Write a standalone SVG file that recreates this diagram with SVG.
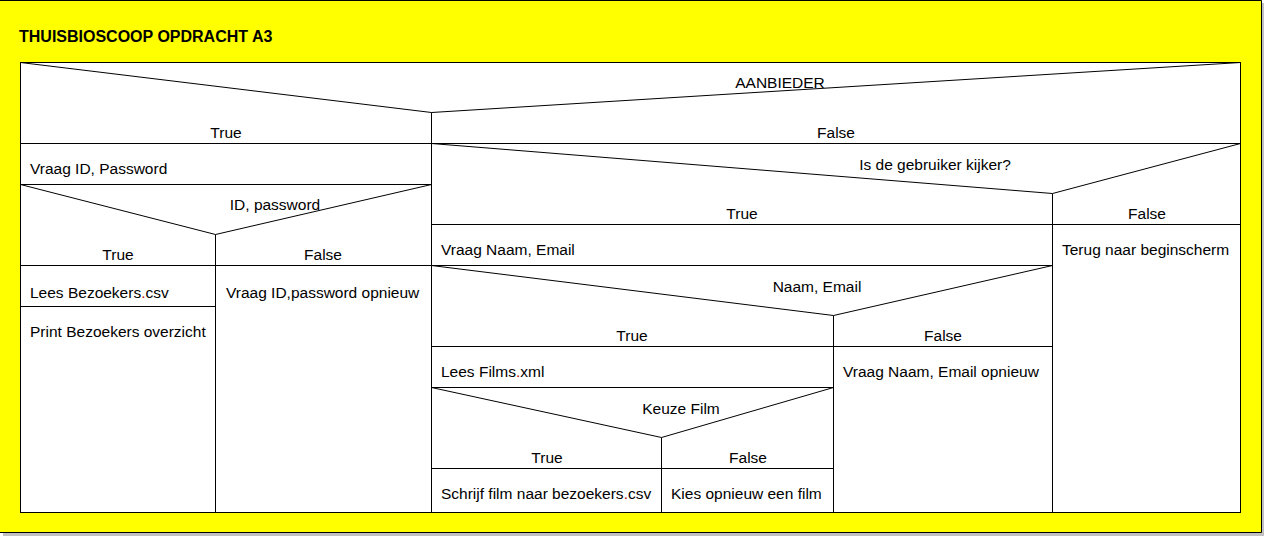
<svg xmlns="http://www.w3.org/2000/svg" width="1264" height="536" viewBox="0 0 1264 536">
<style>
.ln{stroke:#000;stroke-width:1;fill:none}
.t{font-family:"Liberation Sans",Arial,sans-serif;font-size:15.5px;fill:#000}
.c{text-anchor:middle}
.r{fill:#c00000}
.title{font-family:"Liberation Sans",Arial,sans-serif;font-size:16px;font-weight:bold;fill:#000}
</style>
<rect x="3" y="3" width="1261" height="533" fill="#c0c0c0"/>
<rect x="0" y="0" width="1262" height="533" fill="#ffff00"/>
<path class="ln" d="M0,0.5H1261.5V532.5H0"/>
<g id="title"><text class="title" x="19" y="42">THUISBIOSCOOP OPDRACHT A3</text></g>
<g id="diagram">
<rect x="20.5" y="62.5" width="1220" height="450" fill="#fff" stroke="#000"/>
</g>
<g id="connectors">
<!-- outer frame lines are structural -->
</g>
<g id="dec-aanbieder">
<path class="ln" d="M20.5,62.5L431.5,112.5L1240.5,62.5M20.5,143.5H1240.5M431.5,112.5V512.5"/>
<text class="t c" x="780" y="88">AANBIEDER</text>
<text class="t c" x="226" y="138">True</text>
<text class="t c" x="836" y="138">False</text>
</g>
<g id="act-vraag-id">
<path class="ln" d="M20.5,184.5H431.5"/>
<text class="t" x="30" y="174">Vraag ID, Password</text>
</g>
<g id="dec-id-password">
<path class="ln" d="M20.5,184.5L215.5,234.5L431.5,184.5M20.5,265.5H431.5M215.5,234.5V512.5"/>
<text class="t c" x="275" y="210">ID, password</text>
<text class="t c" x="118" y="260">True</text>
<text class="t c" x="323" y="260">False</text>
</g>
<g id="act-lees-bezoekers">
<path class="ln" d="M20.5,306.5H215.5"/>
<text class="t" x="30" y="298">Lees Bezoekers<tspan class="r">.</tspan>csv</text>
</g>
<g id="act-print"><text class="t" x="30" y="337">Print Bezoekers overzicht</text></g>
<g id="act-vraag-id-opnieuw"><text class="t" x="226" y="298">Vraag ID,password opnieuw</text></g>
<g id="dec-kijker">
<path class="ln" d="M431.5,143.5L1052.5,193.5L1240.5,143.5M431.5,224.5H1240.5M1052.5,193.5V512.5"/>
<text class="t c" x="935" y="170">Is de gebruiker kijker?</text>
<text class="t c" x="742" y="219">True</text>
<text class="t c" x="1147" y="219">False</text>
</g>
<g id="act-terug"><text class="t" x="1062" y="255">Terug naar beginscherm</text></g>
<g id="act-vraag-naam">
<path class="ln" d="M431.5,265.5H1052.5"/>
<text class="t" x="441" y="255">Vraag Naam, Email</text>
</g>
<g id="dec-naam-email">
<path class="ln" d="M431.5,265.5L833.5,315.5L1052.5,265.5M431.5,346.5H1052.5M833.5,315.5V512.5"/>
<text class="t c" x="817" y="292">Naam, Email</text>
<text class="t c" x="632" y="341">True</text>
<text class="t c" x="943" y="341">False</text>
</g>
<g id="act-vraag-naam-opnieuw"><text class="t" x="843" y="377">Vraag Naam, Email opnieuw</text></g>
<g id="act-lees-films">
<path class="ln" d="M431.5,387.5H833.5"/>
<text class="t" x="441" y="377">Lees Films<tspan class="r">.</tspan>xml</text>
</g>
<g id="dec-keuze-film">
<path class="ln" d="M431.5,387.5L661.5,437.5L833.5,387.5M431.5,468.5H833.5M661.5,437.5V512.5"/>
<text class="t c" x="681" y="414">Keuze Film</text>
<text class="t c" x="547" y="463">True</text>
<text class="t c" x="748" y="463">False</text>
</g>
<g id="act-schrijf"><text class="t" x="441" y="499">Schrijf film naar bezoekers<tspan class="r">.</tspan>csv</text></g>
<g id="act-kies"><text class="t" x="671" y="499">Kies opnieuw een film</text></g>
</svg>
